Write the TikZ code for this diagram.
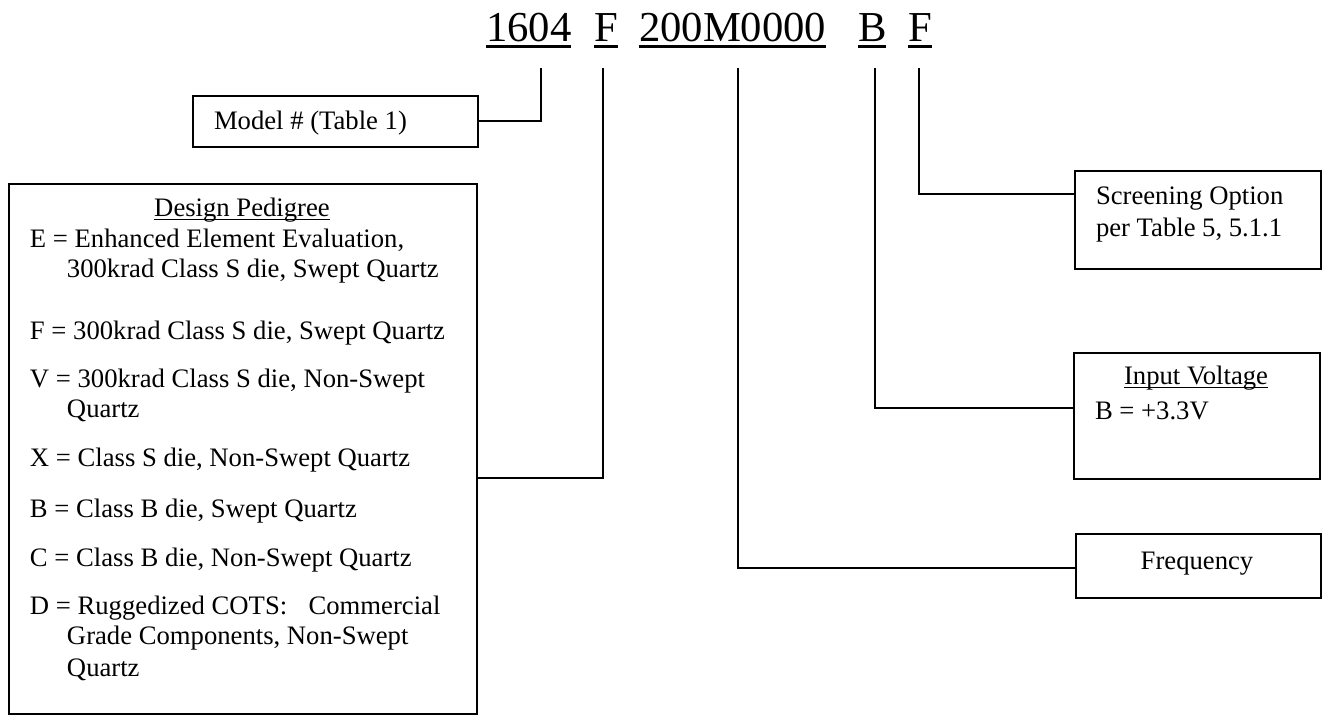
\documentclass[tikz,border=0pt]{standalone}
\usepackage{fontspec}
\setmainfont{Liberation Serif}
\usetikzlibrary{positioning}
\newcommand\wordul[1]{\setbox0\hbox{#1}\rlap{\rule[-0.13em]{\wd0}{0.05em}}\box0}

\begin{document}
\begin{tikzpicture}[x=0.375pt, y=-0.375pt, line width=0.75pt,
    box/.style 2 args={draw, rectangle, inner sep=0pt, anchor=north west,
                       minimum width=#1*0.375pt, minimum height=#2*0.375pt},
    txt/.style={inner sep=0pt, anchor=base west, font=\fontsize{10pt}{11.5pt}\selectfont},
    ctxt/.style={txt, anchor=base},
    code/.style={inner sep=0pt, anchor=base west, font=\fontsize{16pt}{18pt}\selectfont}]
    \useasboundingbox (0,0) rectangle (1322,715);

    \node[code] (p1) at (485,42) {\wordul{1604}};
    \node[code] (p2) at (593,42) {\wordul{F}};
    \node[code] (p3) at (638,42) {\wordul{200M0000}};
    \node[code] (p4) at (857,42) {\wordul{B}};
    \node[code] (p5) at (907,42) {\wordul{F}};

    \node[box={285}{51}] (model) at (192,95) {};
    \node[txt] (modeltxt) at (213,130) {Model \# (Table 1)};

    \node[box={468}{530}] (pedigree) at (8,183) {};
    \node[ctxt] (pedhead) at (242,217) {\wordul{Design Pedigree}};
    \node[txt] (pedE) at (29,248) {E = Enhanced Element Evaluation,};
    \node[txt] (pedEb) at (66,278) {300krad Class S die, Swept Quartz};
    \node[txt] (pedF) at (29,340) {F = 300krad Class S die, Swept Quartz};
    \node[txt] (pedV) at (29,388) {V = 300krad Class S die, Non-Swept};
    \node[txt] (pedVb) at (66,418) {Quartz};
    \node[txt] (pedX) at (29,467) {X = Class S die, Non-Swept Quartz};
    \node[txt] (pedB) at (29,518) {B = Class B die, Swept Quartz};
    \node[txt] (pedC) at (29,567) {C = Class B die, Non-Swept Quartz};
    \node[txt] (pedD) at (29,615) {D = Ruggedized COTS:\hspace{0.8em}Commercial};
    \node[txt] (pedDb) at (66,645) {Grade Components, Non-Swept};
    \node[txt] (pedDc) at (66,677) {Quartz};

    \node[box={246}{98}] (screen) at (1074,170) {};
    \node[txt] (screentxt) at (1095,205) {Screening Option};
    \node[txt] (screentxtb) at (1095,237) {per Table 5, 5.1.1};

    \node[box={246}{126}] (volt) at (1073,352) {};
    \node[ctxt] (volthead) at (1196,385) {\wordul{Input Voltage}};
    \node[txt] (volttxt) at (1094,420) {B = +3.3V};

    \node[box={245}{64}] (freq) at (1075,533) {};
    \node[ctxt] (freqtxt) at (1197,570) {Frequency};

    \coordinate (k1) at (541,68);
    \coordinate (k2) at (603,68);
    \coordinate (k3) at (738,68);
    \coordinate (k4) at (875,68);
    \coordinate (k5) at (919,68);

    \draw (k1) |- (model.east);
    \draw (k2) |- (pedigree.east |- 0,478);
    \draw (k3) |- (freq.west |- 0,568);
    \draw (k4) |- (volt.west |- 0,408);
    \draw (k5) |- (screen.west |- 0,194);
  \end{tikzpicture}
\end{document}
